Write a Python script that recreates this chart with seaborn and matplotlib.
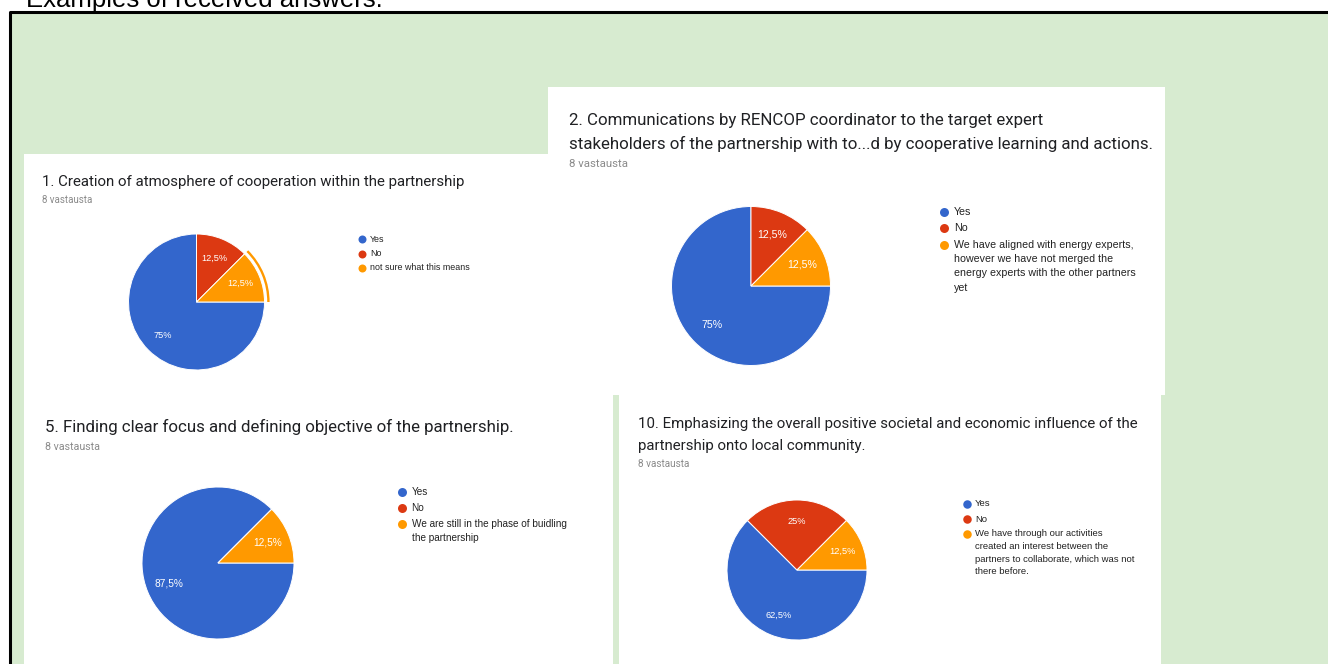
import matplotlib
matplotlib.use("Agg")
import matplotlib.pyplot as plt
import matplotlib.patches as mpatches
import seaborn as sns

# answers (Google Forms legend order) and counts out of 8 respondents
answers_q1 = ["Yes", "No", "not sure what this means"]
answers_q2 = ["Yes", "No",
              "We have aligned with energy experts,\nhowever we have not merged the\n"
              "energy experts with the other partners\nyet"]
answers_q5 = ["Yes", "No", "We are still in the phase of buidling\nthe partnership"]
answers_q10 = ["Yes", "No",
               "We have through our activities\ncreated an interest between the\n"
               "partners to collaborate, which was not\nthere before."]

counts_q1 = [6, 1, 1]
counts_q2 = [6, 1, 1]
counts_q5 = [7, 0, 1]
counts_q10 = [5, 2, 1]

title_q1 = "1. Creation of atmosphere of cooperation within the partnership"
title_q2 = ("2. Communications by RENCOP coordinator to the target expert\n"
            "stakeholders of the partnership with to...d by cooperative learning and actions.")
title_q5 = "5. Finding clear focus and defining objective of the partnership."
title_q10 = ("10. Emphasizing the overall positive societal and economic influence of the\n"
             "partnership onto local community.")
responses = "8 vastausta"
header = "Examples of received answers:"

W, H = 1328, 664
palette = sns.color_palette(["#3366cc", "#dc3912", "#ff9900"])

sns.set_theme(style="white")
plt.rcParams["font.family"] = ["Roboto", "DejaVu Sans"]

fig = plt.figure(figsize=(W / 100, H / 100), dpi=100)
fig.patch.set_facecolor("white")

# background axes in pixel units
bg = fig.add_axes([0, 0, 1, 1])
bg.set_xlim(0, W)
bg.set_ylim(H, 0)
bg.axis("off")

bg.add_patch(mpatches.Rectangle((10, 11.7), W, H, facecolor="#d7ebd0", edgecolor="none", zorder=0))
bg.plot([10, 10, W + 5], [H + 5, 11.7, 11.7], color="black", lw=2.2, zorder=1, solid_capstyle="projecting")
bg.text(26.5, 7, header, fontsize=18.5, family=["Liberation Sans"], color="black", va="baseline", zorder=1)


def pct_label(p):
    if p < 0.05:
        return ""
    s = f"{p:.1f}"
    if s.endswith(".0"):
        s = s[:-2]
    return s.replace(".", ",") + "%"


def draw_panel(spec, answers, counts, title, highlight=None):
    x0, y0, x1, y1 = spec["box"]
    bg.add_patch(mpatches.Rectangle((x0, y0), x1 - x0, y1 - y0, facecolor="white", edgecolor="none", zorder=2))

    tx, ty = spec["title"]
    for j, line in enumerate(title.split("\n")):
        bg.text(tx, ty + j * spec["title_gap"], line, fontsize=spec["title_fs"], color="#202124",
                va="center", ha="left", zorder=3)
    sx, sy = spec["sub"]
    bg.text(sx, sy, responses, fontsize=spec["sub_fs"], color="#8a8a8a", va="center", zorder=3)

    # pie
    cx, cy, r = spec["pie"]
    pad = 1.15
    ax = fig.add_axes([(cx - r * pad) / W, 1 - (cy + r * pad) / H, 2 * r * pad / W, 2 * r * pad / H])
    ax.pie(counts, colors=palette, startangle=0, counterclock=False, autopct=pct_label,
           pctdistance=0.7, radius=1,
           wedgeprops=dict(edgecolor="white", linewidth=0.7),
           textprops=dict(color="white", fontsize=spec["pct_fs"], family=["Liberation Sans"]))
    if highlight is not None:
        ring_colors = ["none"] * len(counts)
        ring_colors[highlight] = palette[highlight]
        ax.pie(counts, colors=ring_colors, startangle=0, counterclock=False, radius=1.075,
               wedgeprops=dict(width=0.035, linewidth=0))
    ax.set_xlim(-pad, pad)
    ax.set_ylim(-pad, pad)
    ax.set_aspect("equal")
    ax.axis("off")

    # legend
    mx, lx, ly = spec["legend"]
    msize = (spec["marker_px"] * 0.72) ** 2
    for i, label in enumerate(answers):
        lines = label.split("\n")
        bg.scatter(mx, ly, s=msize, color=palette[i], linewidths=0, zorder=3)
        for j, line in enumerate(lines):
            bg.text(lx, ly + j * spec["line_gap"], line, fontsize=spec["leg_fs"], color="#222222",
                    family=["Liberation Sans"], va="center", zorder=3)
        ly += spec["item_gap"] + (len(lines) - 1) * spec["line_gap"]


spec_q1 = dict(box=(24, 154, 548, 395), title=(42, 182), title_gap=22, title_fs=10.8,
               sub=(42, 200), sub_fs=7, pie=(196.5, 302, 68), pct_fs=6.6,
               legend=(362, 370, 239), item_gap=14.5, line_gap=13, marker_px=8, leg_fs=6.4)
spec_q2 = dict(box=(548, 87, 1165, 395), title=(569, 120), title_gap=24, title_fs=12.2,
               sub=(569, 164), sub_fs=8.2, pie=(751, 286, 79.5), pct_fs=7.6,
               legend=(944, 954, 211.7), item_gap=16.7, line_gap=14.2, marker_px=9, leg_fs=7.7)
spec_q5 = dict(box=(24, 395, 613, 664), title=(45, 427), title_gap=22, title_fs=12.2,
               sub=(45, 447), sub_fs=7.7, pie=(218, 563, 76), pct_fs=7.3,
               legend=(402, 411.6, 491.7), item_gap=16, line_gap=14, marker_px=9, leg_fs=7.2)
spec_q10 = dict(box=(619, 395, 1161, 664), title=(638, 424), title_gap=22, title_fs=10.8,
                sub=(638, 464), sub_fs=7.2, pie=(797, 570, 70), pct_fs=6.7,
                legend=(967, 975, 504), item_gap=15, line_gap=12.5, marker_px=8.5, leg_fs=6.8)

draw_panel(spec_q1, answers_q1, counts_q1, title_q1, highlight=2)
draw_panel(spec_q2, answers_q2, counts_q2, title_q2)
draw_panel(spec_q5, answers_q5, counts_q5, title_q5)
draw_panel(spec_q10, answers_q10, counts_q10, title_q10)

fig.savefig("out.png", dpi=100, facecolor=fig.get_facecolor())
